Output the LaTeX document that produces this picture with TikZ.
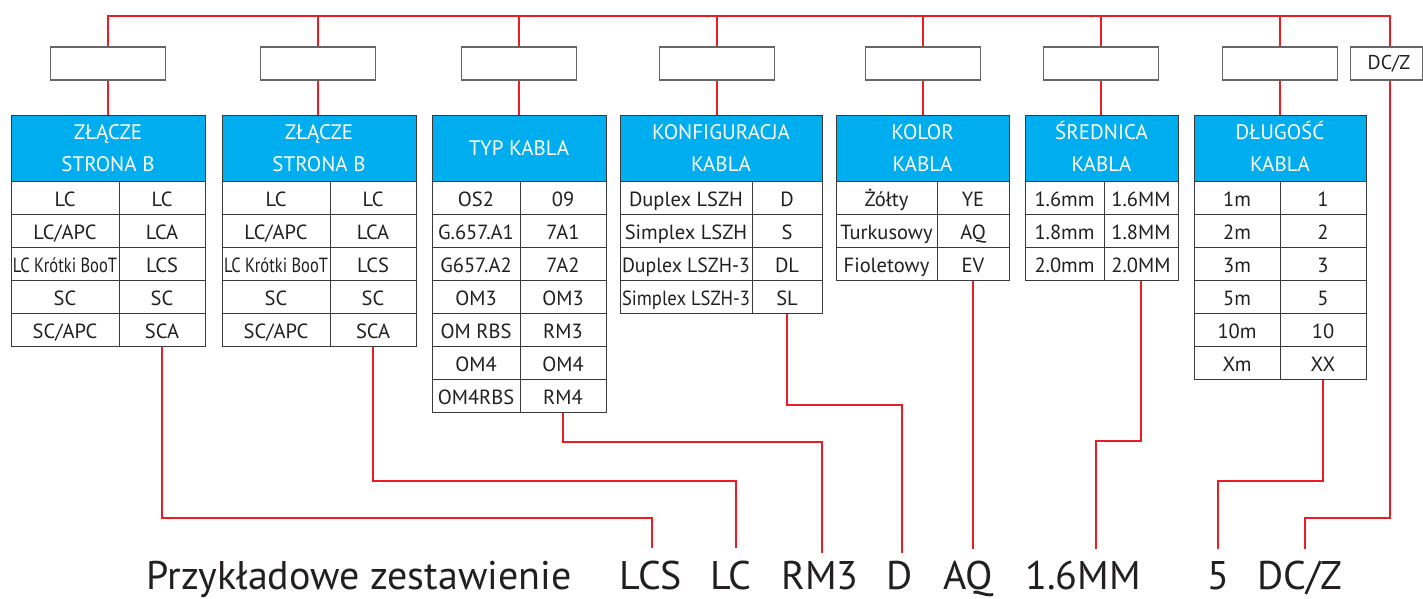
\documentclass[tikz,border=0pt]{standalone}
\usepackage{fontspec}
\setmainfont{PT Sans}
\usepackage{graphicx}
\definecolor{hdrblue}{HTML}{00AEEF}
\definecolor{lnred}{HTML}{ED1C24}
\definecolor{cellline}{HTML}{3A3A3A}
\definecolor{boxline}{HTML}{666666}
\definecolor{txtc}{HTML}{231F20}
\newcommand\fitcell[2]{\setbox0\hbox{#2}\ifdim\wd0>#1\relax\resizebox{#1}{\height}{#2}\else\box0\fi}
\tikzset{
  redln/.style={draw=lnred, line width=2pt},
  smallbox/.style={draw=boxline, line width=1.2pt, fill=white, minimum width=115pt, minimum height=33pt, inner sep=0pt, text=txtc, font=\fontsize{20}{24}\selectfont},
  hdr/.style={draw=cellline, line width=1pt, fill=hdrblue, inner sep=0pt, minimum height=66pt},
  hdrtext/.style={text=white, inner sep=0pt, anchor=base, font=\fontsize{21}{24}\selectfont},
  cell/.style={draw=cellline, line width=1pt, inner sep=0pt, minimum height=33pt, text height=18pt, text depth=0pt, text=txtc, font=\fontsize{20.5}{24}\selectfont},
  bottomlbl/.style={anchor=base, inner sep=0pt, text=txtc, font=\fontsize{40}{42}\selectfont},
}
% #1 name, #2 x0, #3 xdiv, #4 x1, #5 line1, #6 line2, #7 rows
\newcommand\mktable[7]{%
  \node[hdr, minimum width={(#4-#2)*1pt}] (#1-h) at ({(#2+#4)/2},148) {};
  \if\relax\detokenize{#6}\relax
    \node[hdrtext] (#1-ht) at ({(#2+#4)/2},155) {#5};
  \else
    \node[hdrtext] (#1-ht) at ({(#2+#4)/2},139.3) {#5};
    \node[hdrtext] (#1-hu) at ({(#2+#4)/2},171.7) {#6};
  \fi
  \foreach \a/\b [count=\i] in {#7} {
    \pgfmathsetmacro\wa{#3-#2-4}
    \node[cell, minimum width={(#3-#2)*1pt}] (#1-\i-a) at ({(#2+#3)/2},{181+33*(\i-0.5)}) {\fitcell{\wa pt}{\a}};
    \node[cell, minimum width={(#4-#3)*1pt}] (#1-\i-b) at ({(#3+#4)/2},{181+33*(\i-0.5)}) {\b};
  }%
}
\begin{document}
\begin{tikzpicture}[x=1pt,y=-1pt]
\useasboundingbox[fill=white] (0,0) rectangle (1423,598);

% tables
\mktable{t1}{11}{119}{205}{ZŁĄCZE}{STRONA B}{LC/LC, {LC/APC}/LCA, LC Krótki BooT/LCS, SC/SC, {SC/APC}/SCA}
\mktable{t2}{222}{330}{416}{ZŁĄCZE}{STRONA B}{LC/LC, {LC/APC}/LCA, LC Krótki BooT/LCS, SC/SC, {SC/APC}/SCA}
\mktable{t3}{432}{520}{606}{TYP KABLA}{}{OS2/09, G.657.A1/7A1, G657.A2/7A2, OM3/OM3, OM RBS/RM3, OM4/OM4, OM4RBS/RM4}
\mktable{t4}{620}{752}{822}{KONFIGURACJA}{KABLA}{Duplex LSZH/D, Simplex LSZH/S, Duplex LSZH-3/DL, Simplex LSZH-3/SL}
\mktable{t5}{836}{937}{1009}{KOLOR}{KABLA}{Żółty/YE, Turkusowy/AQ, Fioletowy/EV}
\mktable{t6}{1025}{1104}{1178}{ŚREDNICA}{KABLA}{1.6mm/1.6MM, 1.8mm/1.8MM, 2.0mm/2.0MM}
\mktable{t7}{1194}{1280}{1366}{DŁUGOŚĆ}{KABLA}{1m/1, 2m/2, 3m/3, 5m/5, 10m/10, Xm/XX}

% small boxes
\node[smallbox] (b1) at (108,63.5) {};
\node[smallbox] (b2) at (318,63.5) {};
\node[smallbox] (b3) at (519,63.5) {};
\node[smallbox] (b4) at (717,63.5) {};
\node[smallbox] (b5) at (923,63.5) {};
\node[smallbox] (b6) at (1101,63.5) {};
\node[smallbox] (b7) at (1280,63.5) {};
\node[smallbox, minimum width=72pt] (dcz) at (1386.4,63.5) {\hspace{5pt}DC/Z};

% connector coordinates
\coordinate (dczc) at (1390,16);
\coordinate (e1) at (652,548);
\coordinate (e2) at (736,548);
\coordinate (e3) at (822,553);
\coordinate (e4) at (902,553);
\coordinate (e6) at (1096,549);
\coordinate (e7) at (1218,549);
\coordinate (e8) at (1305,549);

% top bus
\draw[redln] (b1.north) |- (dczc) -- (dczc |- dcz.north);
\foreach \k in {2,...,7} { \draw[redln] (b\k.north) -- (b\k.north |- dczc); }
\foreach \k in {1,...,7} { \draw[redln] (b\k.south) -- (b\k.south |- t\k-h.north); }

% lower connectors
\draw[redln] (t1-5-b.south) |- (e1 |- 0,518) -- (e1);
\draw[redln] (t2-5-b.south) |- (e2 |- 0,481) -- (e2);
\draw[redln] (t3-7-b.south) |- (e3 |- 0,442) -- (e3);
\draw[redln] (t4-4-b.south) |- (e4 |- 0,405) -- (e4);
\draw[redln] (t5-3-b.south) -- (t5-3-b.south |- 0,549);
\draw[redln] (t6-3-b.south) |- (e6 |- 0,441) -- (e6);
\draw[redln] (t7-6-b.south) |- (e7 |- 0,481) -- (e7);
\draw[redln] (dczc |- dcz.south) |- (e8 |- 0,518) -- (e8);

% bottom labels
\node[bottomlbl] (l0) at (359,589) {Przykładowe zestawienie};
\node[bottomlbl] (l1) at (651,589) {LCS};
\node[bottomlbl] (l2) at (731,589) {LC};
\node[bottomlbl] (l3) at (820,589) {RM3};
\node[bottomlbl] (l4) at (900,589) {D};
\node[bottomlbl] (l5) at (968,589) {AQ};
\node[bottomlbl] (l6) at (1083,589) {1.6MM};
\node[bottomlbl] (l7) at (1218,589) {5};
\node[bottomlbl] (l8) at (1300,589) {DC/Z};
\end{tikzpicture}
\end{document}
